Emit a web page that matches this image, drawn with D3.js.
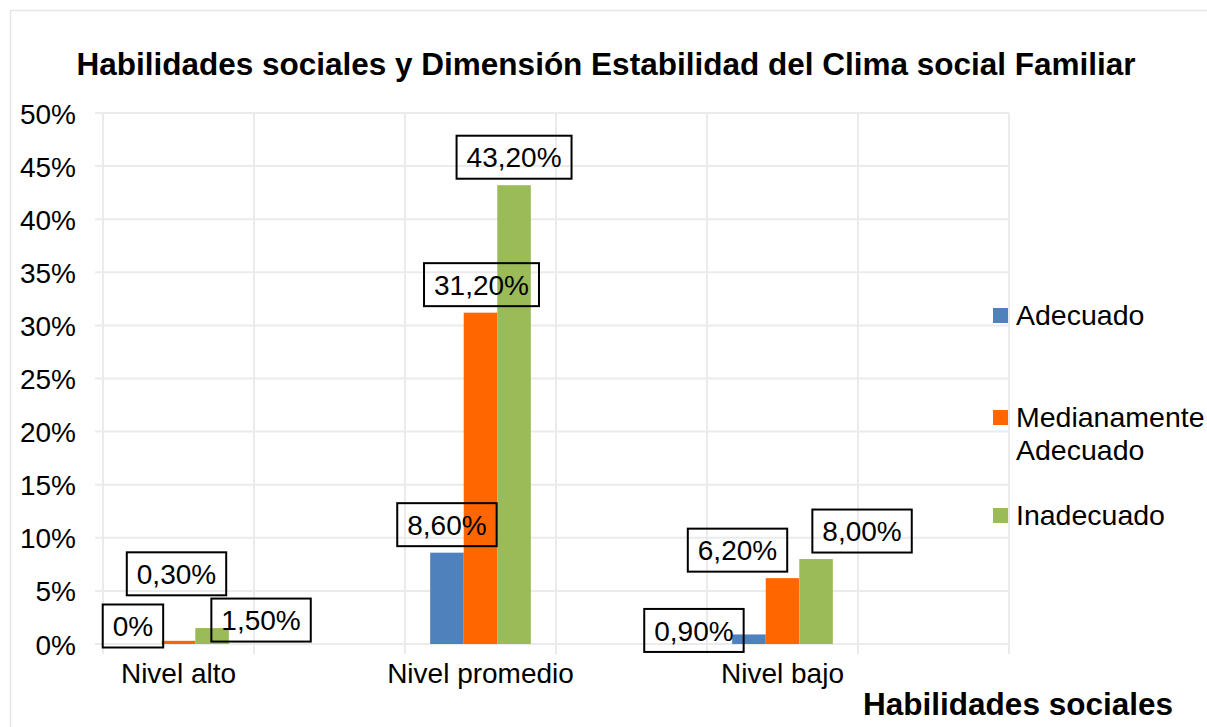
<!DOCTYPE html>
<html>
<head>
<meta charset="utf-8">
<script src="https://cdn.jsdelivr.net/npm/d3@7/dist/d3.min.js"></script>
<style>
  html, body { margin: 0; padding: 0; background: #fff; }
  svg text { font-family: "Liberation Sans", Arial, sans-serif; fill: #000; }
</style>
</head>
<body>
<svg id="chart" width="1207" height="727"></svg>
<script>
// ---- data ----
const categories = ["Nivel alto", "Nivel promedio", "Nivel bajo"];
const seriesNames = ["Adecuado", "Medianamente Adecuado", "Inadecuado"];
const adecuado = [0, 8.6, 0.9];
const medianamenteAdecuado = [0.3, 31.2, 6.2];
const inadecuado = [1.5, 43.2, 8.0];
const yTicks = [0, 5, 10, 15, 20, 25, 30, 35, 40, 45, 50];
const colors = ["#4f81bd", "#ff6600", "#9bbb59"];
// manual label placement (box centre offset from bar top-centre), per series then category
const labelOffsets = [
  [[-12, -18], [0, -28], [-55, -4]],
  [[-2, -67], [1, -28], [-45, -28]],
  [[49, -8], [0, -28], [46, -28]]
];
const seriesValues = [adecuado, medianamenteAdecuado, inadecuado];

const svg = d3.select("#chart");
const W = 1207, H = 727;
const plot = { left: 103, right: 1009, top: 113, bottom: 644 };

// outer chart border
svg.append("rect").attr("x", 10.5).attr("y", 10.5).attr("width", W).attr("height", H)
  .attr("fill", "none").attr("stroke", "#e6e6e6").attr("stroke-width", 1.5);

// scales
const slots = d3.range(categories.length * 2); // each category followed by an empty slot
const x0 = d3.scaleBand().domain(slots).range([plot.left, plot.right]);
const bw = x0.bandwidth();
const x1 = d3.scaleBand().domain(d3.range(seriesNames.length))
  .range([bw * 0.25 / 1.5, bw - bw * 0.25 / 1.5]);
const y = d3.scaleLinear().domain([0, 50]).range([plot.bottom, plot.top]);

const gridColor = "#ebebeb";
// horizontal gridlines (with outward tick)
svg.append("g").selectAll("line").data(yTicks).join("line")
  .attr("x1", plot.left - 8).attr("x2", plot.right)
  .attr("y1", d => y(d)).attr("y2", d => y(d))
  .attr("stroke", gridColor).attr("stroke-width", 2);
// vertical gridlines at slot edges
const edges = slots.map(s => x0(s)).concat([plot.right]);
svg.append("g").selectAll("line").data(edges).join("line")
  .attr("x1", d => d).attr("x2", d => d)
  .attr("y1", plot.top).attr("y2", plot.bottom + 10)
  .attr("stroke", gridColor).attr("stroke-width", 2);

// y axis labels
const yAxis = d3.axisLeft(y).tickValues(yTicks).tickFormat(d => d + "%").tickSize(0).tickPadding(27);
const gy = svg.append("g").attr("transform", `translate(${plot.left},0)`).call(yAxis);
gy.select(".domain").remove();
gy.selectAll("text").style("font-size", "28px").attr("dy", "0.36em")
  .style("font-family", "'Liberation Sans', Arial, sans-serif").attr("fill", "#000");

// x axis labels
const xAxis = d3.axisBottom(x0).tickFormat(s => s % 2 === 0 ? categories[s / 2] : "").tickSize(0).tickPadding(19);
const gx = svg.append("g").attr("transform", `translate(0,${plot.bottom})`).call(xAxis);
gx.select(".domain").remove();
gx.selectAll("text").style("font-size", "28px").attr("dy", "0.71em")
  .style("font-family", "'Liberation Sans', Arial, sans-serif").attr("fill", "#000");

// bars
const barData = [];
seriesValues.forEach((vals, si) => vals.forEach((v, ci) => barData.push({ si, ci, v })));
svg.append("g").selectAll("rect").data(barData).join("rect")
  .attr("x", d => x0(d.ci * 2) + x1(d.si))
  .attr("width", x1.bandwidth())
  .attr("y", d => y(d.v))
  .attr("height", d => y(0) - y(d.v))
  .attr("fill", d => colors[d.si]);

// data labels
const fmt = v => v === 0 ? "0%" : v.toFixed(2).replace(".", ",") + "%";
const lg = svg.append("g");
barData.forEach(d => {
  const cx = x0(d.ci * 2) + x1(d.si) + x1.bandwidth() / 2 + labelOffsets[d.si][d.ci][0];
  const cy = y(d.v) + labelOffsets[d.si][d.ci][1];
  const t = lg.append("text").attr("x", cx).attr("y", cy).attr("dy", "0.36em")
    .attr("text-anchor", "middle").style("font-size", "28px").text(fmt(d.v));
  const w = t.node().getComputedTextLength() + 20;
  lg.insert("rect", "text").attr("x", cx - w / 2).attr("y", cy - 21.5)
    .attr("width", w).attr("height", 43)
    .attr("fill", "none").attr("stroke", "#000").attr("stroke-width", 2);
});

// title
svg.append("text").attr("x", 606).attr("y", 75).attr("text-anchor", "middle")
  .style("font-size", "31.5px").style("font-weight", "bold")
  .text("Habilidades sociales y Dimensión Estabilidad del Clima social Familiar");

// x axis title
svg.append("text").attr("x", 1173).attr("y", 715).attr("text-anchor", "end")
  .style("font-size", "31.5px").style("font-weight", "bold").text("Habilidades sociales");

// legend
const legendRows = [
  { lines: ["Adecuado"], y: 325 },
  { lines: ["Medianamente", "Adecuado"], y: 427 },
  { lines: ["Inadecuado"], y: 525 }
];
const leg = svg.append("g");
legendRows.forEach((r, i) => {
  leg.append("rect").attr("x", 993).attr("y", r.y - 17).attr("width", 15).attr("height", 15).attr("fill", colors[i]);
  const t = leg.append("text").attr("x", 1016).attr("y", r.y).style("font-size", "28.5px");
  r.lines.forEach((ln, j) => t.append("tspan").attr("x", 1016).attr("dy", j === 0 ? 0 : 33).text(ln));
});
</script>
</body>
</html>
